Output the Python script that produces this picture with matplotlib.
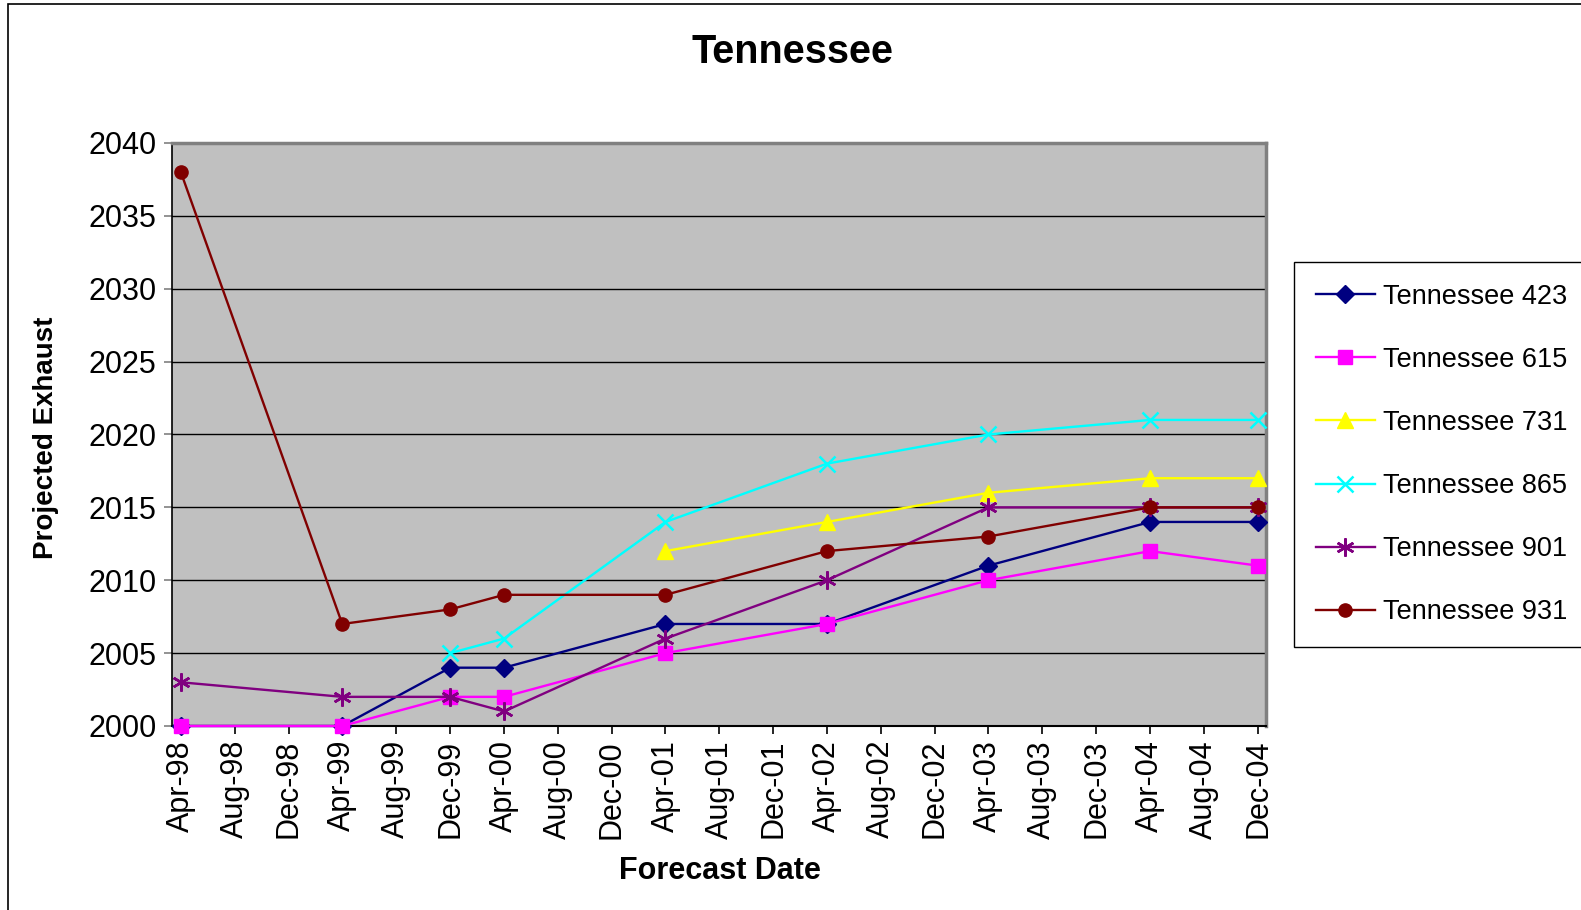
import matplotlib
matplotlib.use("Agg")
import matplotlib.pyplot as plt
import matplotlib.dates as mdates
from matplotlib.patches import Rectangle
from datetime import date

plt.rcParams['font.family'] = ['Liberation Sans', 'DejaVu Sans']

dates_all = [date(1998, 4, 1), date(1999, 4, 1), date(1999, 12, 1), date(2000, 4, 1),
             date(2001, 4, 1), date(2002, 4, 1), date(2003, 4, 1), date(2004, 4, 1),
             date(2004, 12, 1)]

tn423 = [2000, 2000, 2004, 2004, 2007, 2007, 2011, 2014, 2014]
tn615 = [2000, 2000, 2002, 2002, 2005, 2007, 2010, 2012, 2011]
tn731 = [None, None, None, None, 2012, 2014, 2016, 2017, 2017]
tn865 = [None, None, 2005, 2006, 2014, 2018, 2020, 2021, 2021]
tn901 = [2003, 2002, 2002, 2001, 2006, 2010, 2015, 2015, 2015]
tn931 = [2038, 2007, 2008, 2009, 2009, 2012, 2013, 2015, 2015]

series = [
    ("Tennessee 423", tn423, "#000080", "D", 9),
    ("Tennessee 615", tn615, "#FF00FF", "s", 9.5),
    ("Tennessee 731", tn731, "#FFFF00", "^", 11),
    ("Tennessee 865", tn865, "#00FFFF", "x", 11),
    ("Tennessee 901", tn901, "#800080", (6, 2, 0), 13),
    ("Tennessee 931", tn931, "#800000", "o", 9.5),
]

W, H = 1581, 910
fig = plt.figure(figsize=(W / 100, H / 100), dpi=100)
ax = fig.add_axes([172 / W, 1 - 726 / H, (1266 - 172) / W, (726 - 143) / H])
ax.set_facecolor("#C0C0C0")

handles = []
for name, vals, col, mk, ms in series:
    xs = [d for d, v in zip(dates_all, vals) if v is not None]
    ys = [v for v in vals if v is not None]
    thin = mk == "x" or isinstance(mk, tuple)
    h, = ax.plot(xs, ys, color=col, marker=mk, markersize=ms, linewidth=1.7,
                 markeredgewidth=1.8 if thin else 1.0,
                 markeredgecolor=col, markerfacecolor=col, label=name, clip_on=False, zorder=3)
    handles.append(h)

ax.set_ylim(2000, 2040)
ax.set_yticks(range(2000, 2041, 5))
ax.set_xlim(date(1998, 3, 12), date(2004, 12, 19))
ax.xaxis.set_major_locator(mdates.MonthLocator(bymonth=[4, 8, 12]))
ax.xaxis.set_major_formatter(mdates.DateFormatter("%b-%y"))
ax.yaxis.grid(True, color="black", linewidth=1.0)
ax.set_axisbelow(True)

ax.tick_params(axis='both', direction='out', length=6, width=1.2, labelsize=22)
ax.tick_params(axis='x', pad=4)
ax.tick_params(axis='y', color="#808080", pad=5)
for lab in ax.get_xticklabels():
    lab.set_rotation(90)

for s in ("top", "right"):
    ax.spines[s].set_color("#808080")
    ax.spines[s].set_linewidth(2.5)
ax.spines["left"].set_color("black")
ax.spines["bottom"].set_color("black")
ax.spines["left"].set_linewidth(1.2)
ax.spines["bottom"].set_linewidth(1.5)

fig.text(792 / W, 1 - 52 / H, "Tennessee", ha="center", va="center",
         fontsize=28.5, fontweight="bold")
fig.text(720 / W, 1 - 871 / H, "Forecast Date", ha="center", va="center",
         fontsize=22, fontweight="bold")
fig.text(46 / W, 1 - 438 / H, "Projected Exhaust", ha="center", va="center",
         fontsize=20, fontweight="bold", rotation=90)

leg = fig.legend(handles=handles, loc="upper left",
                 bbox_to_anchor=(1294 / W, 1 - 262 / H), bbox_transform=fig.transFigure,
                 fontsize=19.5, frameon=True, fancybox=False, shadow=False,
                 borderaxespad=0, borderpad=0.8, labelspacing=1.37,
                 handlelength=2.2, handletextpad=0.3)
leg.get_frame().set_edgecolor("black")
leg.get_frame().set_linewidth(1.0)
leg.get_frame().set_facecolor("white")
leg.get_frame().set_alpha(1)

border = Rectangle((8 / W, -0.05), 1.2, 1 - 4 / H + 0.05, transform=fig.transFigure,
                   fill=False, edgecolor="black", linewidth=1.2, clip_on=False)
fig.patches.append(border)

fig.savefig("out.png", dpi=100)
